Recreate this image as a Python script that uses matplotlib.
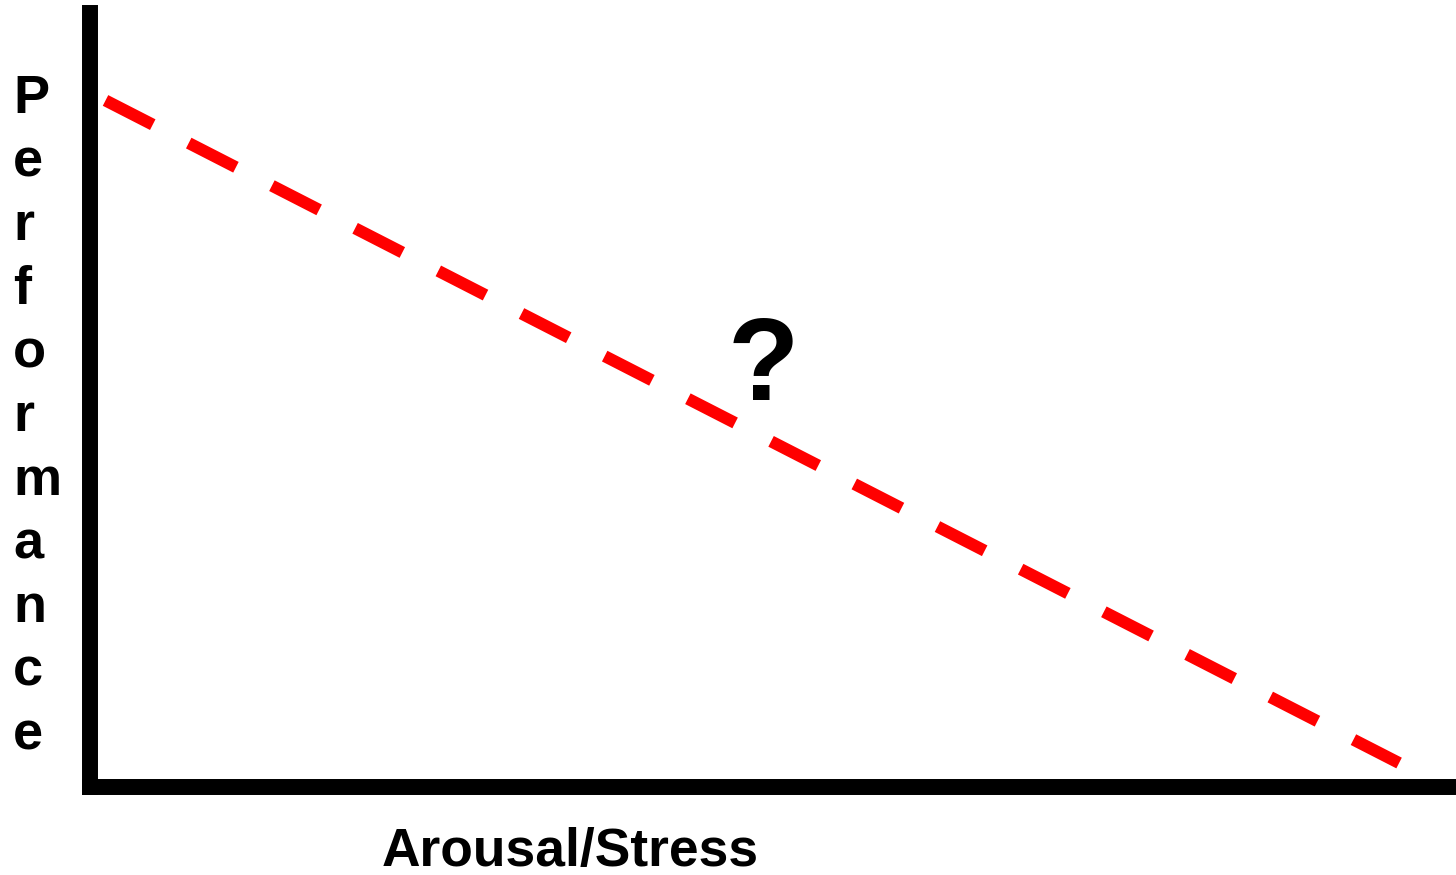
import matplotlib
matplotlib.use('Agg')
import matplotlib.pyplot as plt

# Yerkes-Dodson style sketch: performance falling with arousal
arousal = [0, 10]
performance = [10, 0]
y_label = 'Performance'
x_label = 'Arousal/Stress'
marker_text = '?'

plt.rcParams['font.family'] = ['Liberation Sans', 'DejaVu Sans']
plt.rcParams['lines.scale_dashes'] = False

W, H = 1456, 875
fig = plt.figure(figsize=(W / 100, H / 100), dpi=100)
ax = fig.add_axes([90 / W, 88 / H, (W - 90) / W, 774 / H])

ax.plot(arousal, performance, color='red', lw=8.64,
        linestyle=(0, (38.2, 29.1)), dash_capstyle='butt')

ax.set_xlim(-0.12, 10.44)
ax.set_ylim(-0.362, 11.32)
ax.set_xticks([])
ax.set_yticks([])
for side in ['top', 'right']:
    ax.spines[side].set_visible(False)
for side in ['left', 'bottom']:
    ax.spines[side].set_linewidth(11.5)
    ax.spines[side].set_color('black')
    ax.spines[side].set_capstyle('projecting')

# vertical stacked y label
fig.text(13 / W, 1 - 74 / H, '\n'.join(y_label), fontsize=39, fontweight='bold',
         ha='left', va='top', multialignment='left', linespacing=1.35)
fig.text(570 / W, 1 - 866 / H, x_label, fontsize=38.4, fontweight='bold',
         ha='center', va='baseline')
fig.text(763 / W, 1 - 400 / H, marker_text, fontsize=84, fontweight='bold',
         ha='center', va='baseline')

fig.savefig('out.png', dpi=100)
